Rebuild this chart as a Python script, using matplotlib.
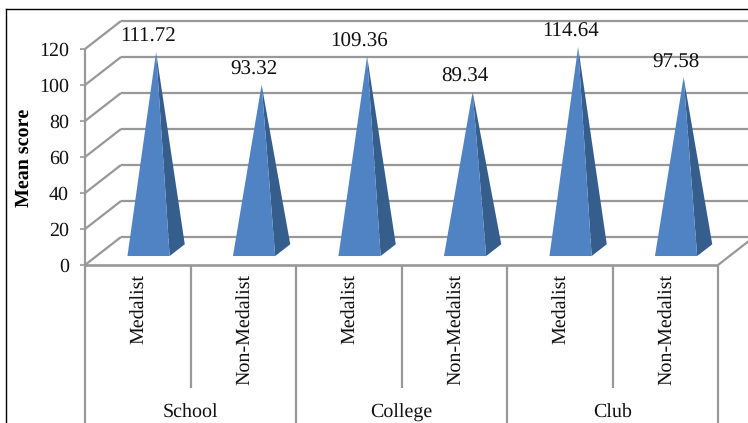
import matplotlib
matplotlib.use("Agg")
import matplotlib.pyplot as plt
from matplotlib.lines import Line2D
from matplotlib.patches import Polygon

plt.rcParams['font.family'] = ['Liberation Serif', 'DejaVu Serif']
plt.rcParams['font.size'] = 14.2
plt.rcParams['text.hinting'] = 'no_hinting'
plt.rcParams['text.hinting_factor'] = 1

groups = ['School', 'College', 'Club']
status = ['Medalist', 'Non-Medalist', 'Medalist', 'Non-Medalist', 'Medalist', 'Non-Medalist']
scores = [111.72, 93.32, 109.36, 89.34, 114.64, 97.58]
yticks = [0, 20, 40, 60, 80, 100, 120]

W, H = 748, 423
GRID = '#989898'
FRONT = '#5083C4'
SIDE = '#365E8C'

# fake 3d: how far the back wall is shifted from the front, in data units
depth_x = 36 / 105.5
depth_y = 28 / 1.8
# extra room so the back lines run off the right of the picture
x_end = 6 + depth_x

fig = plt.figure(figsize=(W / 100, H / 100), dpi=100)
ax = fig.add_axes([85 / W, 1 - 265 / H, 633 / W, 216 / H])
ax.set_xlim(0, 6)
ax.set_ylim(0, 120)
ax.patch.set_visible(False)
for s in ax.spines.values():
    s.set_visible(False)


def gline(x, y, lw=1.6):
    ax.plot(x, y, color=GRID, lw=lw, clip_on=False, solid_capstyle='butt', zorder=1)


# walls and floor
for v in yticks:
    gline([0, depth_x], [v, v + depth_y])
    gline([depth_x, x_end], [v + depth_y, v + depth_y])
gline([0, 0], [0, 120])
gline([0, 6], [0, 0], lw=1.9)
gline([6, x_end], [0, depth_y])

# category axis under the floor
for i in range(7):
    low = -88.5 if i % 2 == 0 else -68.3
    gline([i, i], [0, low])

# pyramids
half = 0.2
for i, val in enumerate(scores):
    cx = i + 0.5 + 0.30 * depth_x
    y0 = 0.32 * depth_y  # front edge of the base
    back_x = 0.42 * depth_x
    back_y = 0.42 * depth_y
    apex = (cx + back_x / 2, y0 + back_y / 2 + val * 0.985)
    ax.add_patch(Polygon([(cx + half, y0), (cx + half + back_x, y0 + back_y), apex],
                         closed=True, fc=SIDE, ec='none', clip_on=False, zorder=3))
    ax.add_patch(Polygon([(cx - half, y0), (cx + half, y0), apex],
                         closed=True, fc=FRONT, ec='none', clip_on=False, zorder=4))
    ax.annotate(f'{val:.2f}', xy=apex, xytext=(-8 * 0.72, 15 * 0.72),
                textcoords='offset points', ha='center', va='center', fontsize=15,
                color='#111111', annotation_clip=False, zorder=5)

ax.set_xticks([])
ax.set_yticks(yticks)
ax.tick_params(axis='y', length=3.6, width=1.2, color=GRID, pad=8, labelcolor='#111111')
ax.set_ylabel('Mean score', fontweight='bold', color='black')
ax.yaxis.set_label_coords(-0.082, 0.495)

for i, name in enumerate(status):
    ax.text(i + 0.52, -5.2, name, rotation=90, ha='center', va='top', color='#111111', clip_on=False)
for i, name in enumerate(groups):
    ax.text(2 * i + 1, -82.2, name, ha='center', va='center', color='#111111', clip_on=False)

# outer frame of the chart, only top and left show
fig.add_artist(Line2D([6 / W, 6 / W], [0, 1 - 9.5 / H], color='black', lw=1))
fig.add_artist(Line2D([6 / W, 1], [1 - 9.5 / H, 1 - 9.5 / H], color='black', lw=1))

fig.savefig('out.png', dpi=100)
